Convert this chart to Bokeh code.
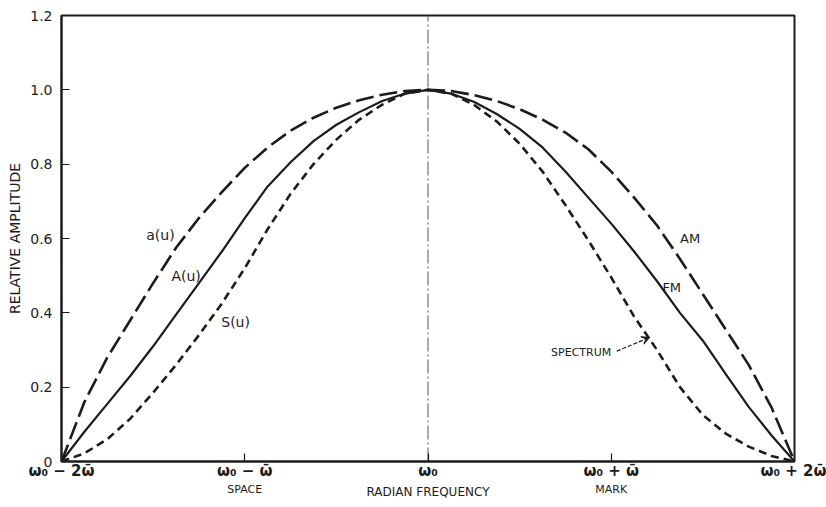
from bokeh.plotting import figure
from bokeh.models import Label, Arrow, VeeHead, Range1d, FixedTicker, LinearAxis
from bokeh.embed import file_html
from bokeh.resources import INLINE

# ---- data ----
u = [-2, -1.875, -1.75, -1.625, -1.5, -1.375, -1.25, -1.125, -1, -0.875, -0.75, -0.625, -0.5, -0.375, -0.25, -0.125,
     0, 0.125, 0.25, 0.375, 0.5, 0.625, 0.75, 0.875, 1, 1.125, 1.25, 1.375, 1.5, 1.625, 1.75, 1.875, 2]
am = [0, 0.16, 0.28, 0.38, 0.48, 0.575, 0.655, 0.725, 0.79, 0.845, 0.89, 0.925, 0.952, 0.972, 0.987, 0.997,
      1.0, 0.997, 0.986, 0.97, 0.948, 0.92, 0.885, 0.84, 0.78, 0.71, 0.635, 0.545, 0.45, 0.355, 0.26, 0.145, 0]
fm = [0, 0.08, 0.155, 0.23, 0.31, 0.395, 0.48, 0.565, 0.655, 0.74, 0.805, 0.862, 0.906, 0.94, 0.97, 0.99,
      1.0, 0.99, 0.968, 0.935, 0.895, 0.845, 0.78, 0.71, 0.64, 0.565, 0.485, 0.4, 0.325, 0.235, 0.147, 0.07, 0]
spectrum = [0, 0.022, 0.06, 0.115, 0.185, 0.26, 0.34, 0.425, 0.52, 0.625, 0.72, 0.80, 0.866, 0.92, 0.96, 0.99,
            1.0, 0.99, 0.96, 0.915, 0.855, 0.78, 0.69, 0.595, 0.495, 0.39, 0.30, 0.20, 0.125, 0.075, 0.04, 0.015, 0]

x_ticks = [-2, -1, 0, 1, 2]
x_tick_labels = ["ω₀ − 2ω̄", "ω₀ − ω̄", "ω₀", "ω₀ + ω̄", "ω₀ + 2ω̄"]
band_ticks = [-1, 1]
band_labels = ["SPACE", "MARK"]
y_ticks = [0, 0.2, 0.4, 0.6, 0.8, 1.0, 1.2]
y_tick_labels = ["0", "0.2", "0.4", "0.6", "0.8", "1.0", "1.2"]

INK = "#1c1c1c"
FONT = "DejaVu Sans"

p = figure(width=826, height=507, output_backend="svg", toolbar_location=None,
           x_range=Range1d(-2, 2), y_range=Range1d(0, 1.2),
           min_border_left=61, min_border_right=32, min_border_top=15, min_border_bottom=46)
p.background_fill_color = "white"
p.border_fill_color = "white"
p.grid.visible = False
p.outline_line_color = INK
p.outline_line_width = 2

# axes
p.xaxis.ticker = FixedTicker(ticks=x_ticks)
p.xaxis.major_label_overrides = {t: l for t, l in zip(x_ticks, x_tick_labels)}
p.yaxis.ticker = FixedTicker(ticks=y_ticks)
p.yaxis.major_label_overrides = {t: l for t, l in zip(y_ticks, y_tick_labels)}
for ax in (p.xaxis[0], p.yaxis[0]):
    ax.axis_line_color = INK
    ax.axis_line_width = 2
    ax.major_tick_in = 8
    ax.major_tick_out = 0
    ax.major_tick_line_color = INK
    ax.major_tick_line_width = 1.2
    ax.minor_tick_line_color = None
    ax.major_label_text_color = INK
    ax.major_label_text_font = FONT
p.xaxis.major_label_text_font_size = "15px"
p.xaxis.major_label_text_font_style = "bold"
p.xaxis.major_label_standoff = 0
p.yaxis.major_label_text_font_size = "14px"
p.yaxis.major_label_standoff = 9
p.yaxis.axis_label = "RELATIVE AMPLITUDE"
p.yaxis.axis_label_text_font = FONT
p.yaxis.axis_label_text_font_size = "14px"
p.yaxis.axis_label_text_font_style = "normal"
p.yaxis.axis_label_text_color = INK
p.yaxis.axis_label_standoff = 4

# second row under the x axis: SPACE / MARK and the axis title
band_axis = LinearAxis(ticker=FixedTicker(ticks=band_ticks),
                       major_label_overrides={t: l for t, l in zip(band_ticks, band_labels)},
                       axis_line_color=None, major_tick_line_color=None, minor_tick_line_color=None,
                       major_tick_in=0, major_tick_out=0,
                       major_label_text_font=FONT, major_label_text_font_size="11px",
                       major_label_text_color=INK, major_label_standoff=0,
                       axis_label="RADIAN FREQUENCY", axis_label_text_font=FONT,
                       axis_label_text_font_size="12px", axis_label_text_font_style="normal",
                       axis_label_text_color=INK, axis_label_standoff=-14)
p.add_layout(band_axis, "below")

# centre line
p.line([0, 0], [0, 1.2], line_color="#555555", line_width=1, line_dash="14 3 2 3")

# curves
p.line(u, am, line_color=INK, line_width=2.6, line_dash="18 6")
p.line(u, fm, line_color=INK, line_width=2.2)
p.line(u, spectrum, line_color=INK, line_width=2.6, line_dash="8 5")

def lab(x, y, t, size="14px", align="center"):
    p.add_layout(Label(x=x, y=y, text=t, text_font=FONT, text_font_size=size,
                       text_color=INK, text_align=align, text_baseline="middle"))

lab(-1.46, 0.61, "a(u)")
lab(-1.32, 0.50, "A(u)")
lab(-1.05, 0.375, "S(u)")
lab(1.43, 0.60, "AM", size="13px")
lab(1.33, 0.467, "FM", size="13px")
lab(1.0, 0.294, "SPECTRUM", size="11px", align="right")

p.add_layout(Arrow(end=VeeHead(size=8, line_color=INK, fill_color=INK, line_width=1),
                   x_start=1.03, y_start=0.297, x_end=1.21, y_end=0.334,
                   line_color=INK, line_width=1.2, line_dash="4 2"))

open("out.html", "w").write(file_html(p, INLINE))
